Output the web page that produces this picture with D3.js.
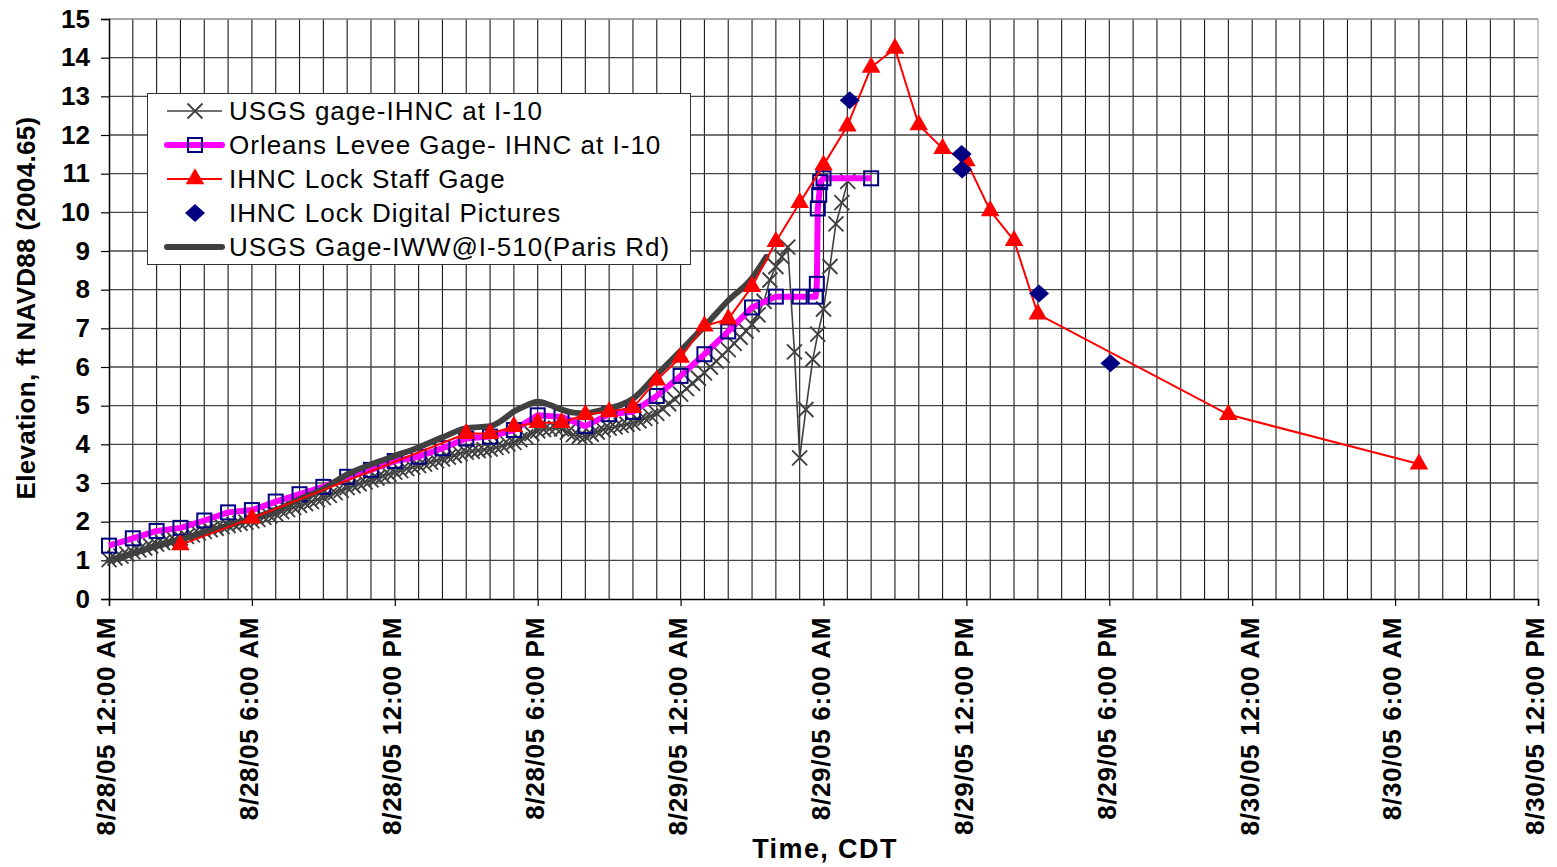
<!DOCTYPE html>
<html>
<head>
<meta charset="utf-8">
<script src="https://cdn.jsdelivr.net/npm/d3@7/dist/d3.min.js"></script>
<style>
  html, body { margin: 0; padding: 0; background: #fff; }
  svg { display: block; }
  text { font-family: "Liberation Sans", Arial, sans-serif; }
</style>
</head>
<body>
<svg id="chart" width="1557" height="867"></svg>
<script>
// ---- DATA (hours after 8/28/05 12:00 AM CDT, elevation ft NAVD88) ----
const xTickLabels = ["8/28/05 12:00 AM","8/28/05 6:00 AM","8/28/05 12:00 PM","8/28/05 6:00 PM",
  "8/29/05 12:00 AM","8/29/05 6:00 AM","8/29/05 12:00 PM","8/29/05 6:00 PM",
  "8/30/05 12:00 AM","8/30/05 6:00 AM","8/30/05 12:00 PM"];
const yTickLabels = [0,1,2,3,4,5,6,7,8,9,10,11,12,13,14,15];
const seriesNames = ["USGS gage-IHNC at I-10","Orleans Levee Gage- IHNC at I-10",
  "IHNC Lock Staff Gage","IHNC Lock Digital Pictures","USGS Gage-IWW@I-510(Paris Rd)"];

const usgsIhnc = [
 [0,1.02],[0.25,1.06],[0.5,1.11],[0.75,1.16],
 [1,1.22],[1.25,1.27],[1.5,1.32],[1.75,1.37],
 [2,1.42],[2.25,1.46],[2.5,1.50],[2.75,1.54],
 [3,1.58],[3.25,1.62],[3.5,1.66],[3.75,1.71],
 [4,1.75],[4.25,1.79],[4.5,1.83],[4.75,1.87],
 [5,1.90],[5.25,1.93],[5.5,1.96],[5.75,1.99],
 [6,2.02],[6.25,2.06],[6.5,2.11],[6.75,2.15],
 [7,2.20],[7.25,2.26],[7.5,2.31],[7.75,2.37],
 [8,2.42],[8.25,2.47],[8.5,2.52],[8.75,2.57],
 [9,2.62],[9.25,2.68],[9.5,2.75],[9.75,2.81],
 [10,2.88],[10.25,2.93],[10.5,2.98],[10.75,3.03],
 [11,3.08],[11.25,3.13],[11.5,3.18],[11.75,3.23],
 [12,3.28],[12.25,3.32],[12.5,3.37],[12.75,3.41],
 [13,3.45],[13.25,3.49],[13.5,3.54],[13.75,3.58],
 [14,3.62],[14.25,3.67],[14.5,3.71],[14.75,3.76],
 [15,3.80],[15.25,3.82],[15.5,3.84],[15.75,3.86],
 [16,3.88],[16.25,3.92],[16.5,3.96],[16.75,4.01],
 [17,4.05],[17.25,4.12],[17.5,4.20],[17.75,4.28],
 [18,4.35],[18.25,4.38],[18.5,4.40],[18.75,4.42],
 [19,4.40],[19.25,4.32],[19.5,4.25],[19.75,4.21],
 [20,4.20],[20.25,4.26],[20.5,4.32],[20.75,4.38],
 [21,4.42],[21.25,4.45],[21.5,4.49],[21.75,4.52],
 [22,4.55],[22.25,4.61],[22.5,4.67],[22.75,4.73],
 [23,4.80],[23.25,4.92],[23.5,5.05],[23.75,5.17],
 [24,5.30],[24.25,5.44],[24.5,5.58],[24.75,5.71],
 [25,5.85],[25.25,6.00],[25.5,6.15],[25.75,6.30],
 [26,6.45],[26.25,6.61],[26.5,6.77],[26.75,6.93],
 [27,7.10],[27.25,7.35],[27.5,7.70],[27.75,8.25],
 [28,8.60],[28.25,8.85],[28.5,9.10],
 [28.78,6.39],[29.0,3.65],[29.26,4.90],[29.55,6.20],[29.76,6.85],
 [30.0,7.50],[30.27,8.60],[30.52,9.70],[30.77,10.25],[31.02,10.80]
];

const orleans = [
 [0,1.38],[1,1.57],[2,1.76],[3,1.84],[4,2.03],[5,2.24],[6,2.30],[7,2.52],[8,2.71],[9,2.90],
 [10,3.16],[11,3.34],[12,3.57],[13,3.68],[14,3.90],[15,4.15],[16,4.20],[17,4.37],[18,4.75],
 [19,4.71],[20,4.47],[21,4.78],[22,4.84],[23,5.25],[24,5.77],[25,6.33],[26,6.92],[27,7.54],
 [28,7.82],[29,7.82],[29.67,7.82],[29.72,8.15],[29.76,10.10],[29.82,10.45],[29.86,10.78],
 [30,10.88],[32,10.88]
];

const staffGage = [
 [3,1.40],[6,2.09],[15,4.28],[16,4.28],[17,4.46],[18,4.56],[19,4.56],[20,4.77],[21,4.84],
 [22,4.95],[23,5.66],[24,6.25],[25,7.06],[26,7.24],[27,8.08],[28,9.24],[29,10.25],[30,11.22],
 [31,12.23],[32,13.75],[33,14.24],[34,12.26],[35,11.65],[36,11.33],[37,10.04],[38,9.27],
 [39,7.37],[47,4.77],[55,3.49]
];

const digitalPics = [
 [31.1,12.90],[35.8,11.51],[35.82,11.11],[39.05,7.90],[42.05,6.10]
];

const iww = [
 [0,1.00],[1,1.18],[2,1.37],[3,1.55],[4,1.72],[5,1.90],[6,2.08],[7,2.30],[8,2.58],[9,2.85],
 [10,3.22],[11,3.48],[12,3.70],[13,3.92],[14,4.18],[15,4.42],[16,4.47],[16.5,4.62],[17,4.85],
 [17.5,5.00],[18,5.10],[18.5,5.02],[19,4.90],[19.5,4.82],[20,4.80],[20.5,4.86],[21,4.94],
 [21.5,5.02],[22,5.18],[23,5.80],[24,6.42],[25,7.05],[26,7.72],[27,8.30],[27.6,8.85]
];

// ---- LAYOUT ----
const svg = d3.select("#chart");
const L = 109, R = 1538, T = 19, B = 599;
const x = d3.scaleLinear().domain([0, 60]).range([L, R]);
const y = d3.scaleLinear().domain([0, 15]).range([B, T]);
const FONT = '"Liberation Sans", Arial, sans-serif';

// grid
const g = svg.append("g");
g.selectAll("line.vg").data(d3.range(1, 61)).enter().append("line")
  .attr("x1", d => x(d)).attr("x2", d => x(d)).attr("y1", T).attr("y2", B)
  .attr("stroke", d => d === 60 ? "#999" : "#1a1a1a").attr("stroke-width", 1.1);
g.selectAll("line.hg").data(d3.range(1, 16)).enter().append("line")
  .attr("x1", L).attr("x2", R).attr("y1", d => y(d)).attr("y2", d => y(d))
  .attr("stroke", d => d === 15 ? "#888" : "#444").attr("stroke-width", 1.3);

// axes
const yAxis = d3.axisLeft(y).tickValues(yTickLabels).tickSize(8).tickFormat(d3.format("d"));
const ya = svg.append("g").attr("transform", `translate(${L},0)`).call(yAxis);
ya.select(".domain").attr("stroke", "#000").attr("stroke-width", 1.5);
ya.selectAll(".tick line").attr("stroke", "#000").attr("stroke-width", 1.2);
ya.selectAll(".tick text").attr("font-family", FONT).attr("font-size", 26)
  .attr("font-weight", "bold").attr("fill", "#000").attr("x", -19);

const xAxis = d3.axisBottom(x).tickValues(d3.range(0, 61, 6)).tickSize(7).tickFormat(() => "");
const xa = svg.append("g").attr("transform", `translate(0,${B})`).call(xAxis);
xa.select(".domain").attr("stroke", "#000").attr("stroke-width", 1.5);
xa.selectAll(".tick line").attr("stroke", "#000").attr("stroke-width", 1.2);

svg.append("g").selectAll("text").data(xTickLabels).enter().append("text")
  .attr("transform", (d, i) => `translate(${x(i * 6) - 3},${B + 18}) rotate(-90)`)
  .attr("dy", "0.36em").attr("text-anchor", "end").attr("letter-spacing", 0.7)
  .attr("font-family", FONT).attr("font-size", 26).attr("font-weight", "bold")
  .text(d => d);

svg.append("text").attr("transform", `translate(26,${(T + B) / 2 - 1}) rotate(-90)`)
  .attr("text-anchor", "middle").attr("dy", "0.36em").attr("letter-spacing", 0.3)
  .attr("font-family", FONT).attr("font-size", 26).attr("font-weight", "bold")
  .text("Elevation, ft NAVD88 (2004.65)");
svg.append("text").attr("x", 825).attr("y", 858).attr("text-anchor", "middle")
  .attr("font-family", FONT).attr("font-size", 27).attr("font-weight", "bold")
  .attr("letter-spacing", 1.4)
  .text("Time, CDT");

// ---- SERIES ----
const line = d3.line().x(d => x(d[0])).y(d => y(d[1]));
const plot = svg.append("g");
const DARK = "#404040";

function xMark(sel, s) {
  sel.append("path").attr("d", `M${-s},${-s}L${s},${s}M${-s},${s}L${s},${-s}`)
    .attr("stroke", DARK).attr("stroke-width", 1.9).attr("fill", "none");
}

// USGS gage-IHNC
plot.append("path").datum(usgsIhnc).attr("d", line)
  .attr("fill", "none").attr("stroke", DARK).attr("stroke-width", 1.6);
plot.append("g").selectAll("g").data(usgsIhnc).enter().append("g")
  .attr("transform", d => `translate(${x(d[0])},${y(d[1])})`).call(xMark, 7.5);

// Orleans
plot.append("path").datum(orleans).attr("d", line)
  .attr("fill", "none").attr("stroke", "#FF00FF").attr("stroke-width", 6).attr("stroke-linejoin", "round");
plot.append("g").selectAll("rect").data(orleans).enter().append("rect")
  .attr("x", d => x(d[0]) - 7).attr("y", d => y(d[1]) - 7).attr("width", 14).attr("height", 14)
  .attr("fill", "none").attr("stroke", "#000080").attr("stroke-width", 2);

// IWW thick line
plot.append("path").datum(iww).attr("d", line.curve(d3.curveMonotoneX))
  .attr("fill", "none").attr("stroke", DARK).attr("stroke-width", 6).attr("stroke-linecap", "round");
line.curve(d3.curveLinear);

// Staff gage
const tri = d3.symbol().type(d3.symbolTriangle).size(150);
plot.append("path").datum(staffGage).attr("d", line)
  .attr("fill", "none").attr("stroke", "#FF0000").attr("stroke-width", 2);
plot.append("g").selectAll("path").data(staffGage).enter().append("path")
  .attr("d", tri).attr("transform", d => `translate(${x(d[0])},${y(d[1])})`)
  .attr("fill", "#FF0000");

// Digital pictures
plot.append("g").selectAll("path").data(digitalPics).enter().append("path")
  .attr("d", "M0,-9L10,0L0,9L-10,0Z").attr("transform", d => `translate(${x(d[0])},${y(d[1])})`)
  .attr("fill", "#000080");

// ---- LEGEND ----
const lg = svg.append("g");
lg.append("rect").attr("x", 147.5).attr("y", 93.5).attr("width", 543).attr("height", 171)
  .attr("fill", "#fff").attr("stroke", "#333").attr("stroke-width", 1);
const ly = i => 111 + i * 34;
const lx1 = 167, lx2 = 222, lxm = 195;
seriesNames.forEach((name, i) => {
  const row = lg.append("g");
  const yy = ly(i);
  if (i === 0) {
    row.append("line").attr("x1", lx1).attr("x2", lx2).attr("y1", yy).attr("y2", yy)
      .attr("stroke", DARK).attr("stroke-width", 1.6);
    row.append("g").attr("transform", `translate(${lxm},${yy})`).call(xMark, 7.5);
  } else if (i === 1) {
    row.append("line").attr("x1", lx1).attr("x2", lx2).attr("y1", yy).attr("y2", yy)
      .attr("stroke", "#FF00FF").attr("stroke-width", 6).attr("stroke-linecap", "round");
    row.append("rect").attr("x", lxm - 7).attr("y", yy - 7).attr("width", 14).attr("height", 14)
      .attr("fill", "none").attr("stroke", "#000080").attr("stroke-width", 2);
  } else if (i === 2) {
    row.append("line").attr("x1", lx1).attr("x2", lx2).attr("y1", yy).attr("y2", yy)
      .attr("stroke", "#FF0000").attr("stroke-width", 2);
    row.append("path").attr("d", tri).attr("transform", `translate(${lxm},${yy})`).attr("fill", "#FF0000");
  } else if (i === 3) {
    row.append("path").attr("d", "M0,-9L10,0L0,9L-10,0Z").attr("transform", `translate(${lxm},${yy})`)
      .attr("fill", "#000080");
  } else {
    row.append("line").attr("x1", lx1).attr("x2", lx2).attr("y1", yy).attr("y2", yy)
      .attr("stroke", DARK).attr("stroke-width", 6).attr("stroke-linecap", "round");
  }
  row.append("text").attr("x", 229).attr("y", yy).attr("dy", "0.36em").attr("letter-spacing", 1)
    .attr("font-family", FONT).attr("font-size", 26).text(name);
});
</script>
</body>
</html>
